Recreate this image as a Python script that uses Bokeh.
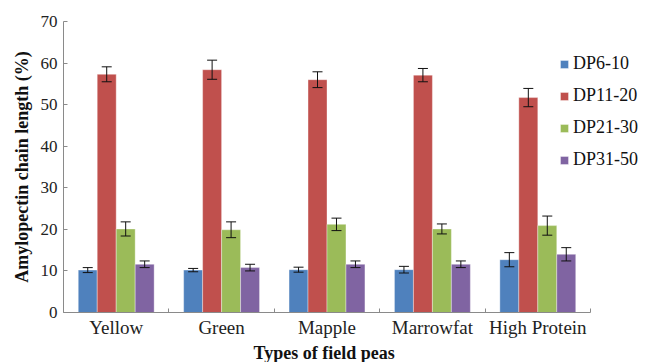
from bokeh.plotting import figure
from bokeh.models import (ColumnDataSource, Whisker, TeeHead, FixedTicker, Legend, LegendItem, Range1d, Title)
from bokeh.embed import file_html
from bokeh.resources import INLINE

categories = ["Yellow", "Green", "Mapple", "Marrowfat", "High Protein"]
series = ["DP6-10", "DP11-20", "DP21-30", "DP31-50"]
dp6_10 = [10.2, 10.2, 10.3, 10.3, 12.7]
dp6_10_err = [0.6, 0.4, 0.6, 0.8, 1.7]
dp11_20 = [57.3, 58.4, 56.0, 57.1, 51.7]
dp11_20_err = [1.8, 2.3, 1.9, 1.6, 2.2]
dp21_30 = [20.1, 19.9, 21.2, 20.1, 20.9]
dp21_30_err = [1.7, 1.9, 1.5, 1.2, 2.3]
dp31_50 = [11.6, 10.8, 11.6, 11.6, 14.0]
dp31_50_err = [0.8, 0.8, 0.8, 0.8, 1.6]
y_ticks = [0, 10, 20, 30, 40, 50, 60, 70]

values = [dp6_10, dp11_20, dp21_30, dp31_50]
errors = [dp6_10_err, dp11_20_err, dp21_30_err, dp31_50_err]
colors = ["#4F81BD", "#C0504D", "#9BBB59", "#8064A2"]
offsets = [-0.27, -0.09, 0.09, 0.27]
bar_w = 0.18

FONT = "'Liberation Serif', 'Times New Roman', serif"
n = len(categories)
frame_w = 581
unit_px = 105.4
x_end = -0.5 + frame_w / unit_px

p = figure(frame_width=frame_w, frame_height=291, output_backend="svg", toolbar_location=None,
           x_range=Range1d(-0.5, x_end), y_range=Range1d(0, 70),
           min_border_left=63, min_border_right=2, min_border_top=21, min_border_bottom=50)
p.outline_line_color = None
p.grid.visible = False
p.background_fill_color = "white"

items = []
for k, name in enumerate(series):
    xs = [i + offsets[k] for i in range(n)]
    src = ColumnDataSource(dict(x=xs, top=values[k],
                                upper=[v + e for v, e in zip(values[k], errors[k])],
                                lower=[v - e for v, e in zip(values[k], errors[k])]))
    r = p.vbar(x="x", top="top", width=bar_w, bottom=0, source=src,
               fill_color=colors[k], line_color="white", line_alpha=0.6, line_width=0.6)
    items.append(LegendItem(label=name, renderers=[r]))
    w = Whisker(base="x", upper="upper", lower="lower", source=src, level="overlay",
                line_color="#111111", line_width=1,
                upper_head=TeeHead(size=10, line_color="#111111", line_width=1),
                lower_head=TeeHead(size=10, line_color="#111111", line_width=1))
    p.add_layout(w)

legend = Legend(items=items, location=(496, 142), label_text_font=FONT,
                label_text_font_size="18px", label_text_color="#111111",
                glyph_width=10, glyph_height=10,
                label_height=20, spacing=11, label_standoff=4, padding=10,
                border_line_color=None, background_fill_alpha=0)
p.add_layout(legend)

# y axis
p.yaxis.ticker = FixedTicker(ticks=y_ticks)
p.yaxis.axis_label = "Amylopectin chain length (%)"
p.yaxis.axis_label_text_font = FONT
p.yaxis.axis_label_text_font_style = "bold"
p.yaxis.axis_label_text_font_size = "18px"
p.yaxis.axis_label_text_color = "#111111"
p.yaxis.axis_label_standoff = 6
p.yaxis.major_label_text_font = FONT
p.yaxis.major_label_text_font_size = "17px"
p.yaxis.major_label_text_color = "#222222"
p.yaxis.major_tick_in = 4
p.yaxis.major_tick_out = 0
p.yaxis.minor_tick_line_color = None
p.yaxis.major_label_standoff = 6
p.yaxis.axis_line_color = "#8a8a8a"
p.yaxis.major_tick_line_color = "#8a8a8a"

# x axis
p.xaxis.bounds = (-0.5, n - 0.5)
p.xaxis.ticker = FixedTicker(ticks=list(range(n)),
                             minor_ticks=[i - 0.5 for i in range(n + 1)])
p.xaxis.major_label_overrides = {i: c for i, c in enumerate(categories)}
p.xaxis.major_label_text_font = FONT
p.xaxis.major_label_text_font_size = "19px"
p.xaxis.major_label_text_color = "#222222"
p.xaxis.major_tick_in = 0
p.xaxis.major_tick_out = 0
p.xaxis.minor_tick_in = 4
p.xaxis.minor_tick_out = 0
p.xaxis.major_label_standoff = 4
p.xaxis.axis_line_color = "#8a8a8a"
p.xaxis.minor_tick_line_color = "#8a8a8a"

# x-axis title, centred under the categories (not under the wider frame)
xtitle = Title(text="Types of field peas", align="left", offset=190, standoff=0,
               text_font=FONT, text_font_style="bold", text_font_size="18px",
               text_color="#111111")
p.add_layout(xtitle, "below")

open("out.html", "w").write(file_html(p, INLINE))
